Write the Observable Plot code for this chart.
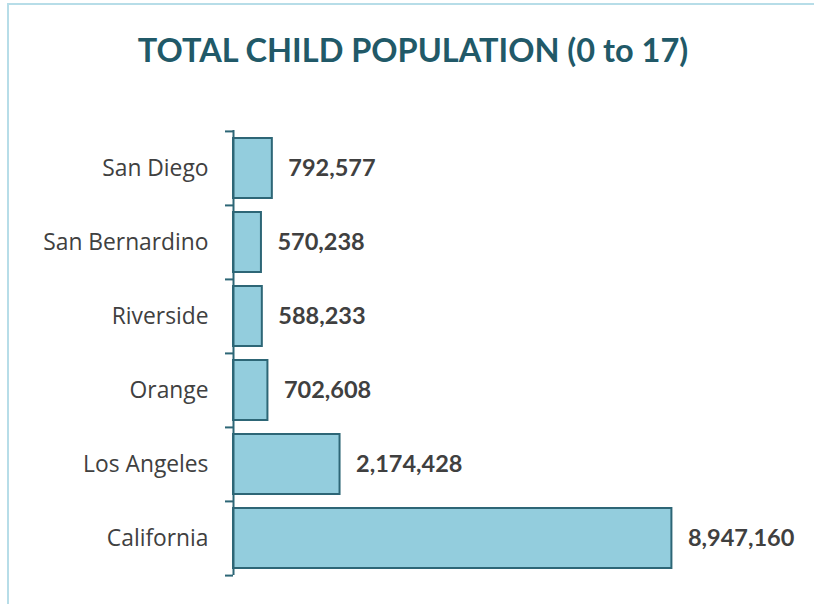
<!DOCTYPE html>
<html>
<head>
<meta charset="utf-8">
<script src="https://cdn.jsdelivr.net/npm/d3@7"></script>
<script src="https://cdn.jsdelivr.net/npm/@observablehq/plot@0.6"></script>
<style>
  html, body { margin: 0; padding: 0; background: #fff; }
  #wrap { position: relative; width: 814px; height: 604px; overflow: hidden; font-family: Lato, "Open Sans", sans-serif; }
  #frame { position: absolute; left: 7px; top: 3px; width: 900px; height: 700px; border: 2px solid #b7dde8; box-sizing: border-box; }
  #title { position: absolute; left: 6px; top: 0; width: 814px; height: 110px; text-align: center; line-height: 100px;
           font-weight: bold; font-size: 32.5px; color: #215968; }
  #chart { position: absolute; left: 0; top: 110px; }
</style>
</head>
<body>
<div id="wrap">
  <div id="frame"></div>
  <div id="title">TOTAL CHILD POPULATION (0 to 17)</div>
  <div id="chart"></div>
</div>
<script>
const categories = ["San Diego", "San Bernardino", "Riverside", "Orange", "Los Angeles", "California"];
const values = [792577, 570238, 588233, 702608, 2174428, 8947160];

const data = categories.map((c, i) => ({ region: c, value: values[i] }));

const W = 814, H = 494;
const marginTop = 20, marginBottom = 29, marginLeft = 233, marginRight = 91;
const step = (H - marginTop - marginBottom) / categories.length;
const fmt = d3.format(",");

const chart = Plot.plot({
  width: W,
  height: H,
  marginTop, marginBottom, marginLeft, marginRight,
  style: { fontFamily: "Lato, 'Open Sans', sans-serif", background: "transparent", overflow: "visible" },
  x: { domain: [0, 10000000], axis: null },
  y: { domain: categories, paddingInner: 0.19, paddingOuter: 0.095, label: null },
  marks: [
    Plot.barX(data, { x: "value", y: "region", fill: "#93cddd", stroke: "#2d6676", strokeWidth: 2 }),
    Plot.ruleX([0], { stroke: "#2d6676", strokeWidth: 2 }),
    Plot.ruleY(categories, { y: d => d, x1: 0, x2: 0, insetLeft: -8, dy: -step / 2, stroke: "#2d6676", strokeWidth: 2 }),
    Plot.ruleY(categories.slice(-1), { y: d => d, x1: 0, x2: 0, insetLeft: -8, dy: step / 2, stroke: "#2d6676", strokeWidth: 2 }),
    Plot.axisY({ tickSize: 0, tickPadding: 25, fontSize: 22.8, color: "#404040", label: null,
                 fontFamily: "'Open Sans', Lato, sans-serif" }),
    Plot.text(data, { x: "value", y: "region", text: d => fmt(d.value), textAnchor: "start", dx: 16,
                      fontSize: 23.5, fontWeight: "bold", fill: "#404040" })
  ]
});
document.getElementById("chart").appendChild(chart);
</script>
</body>
</html>
